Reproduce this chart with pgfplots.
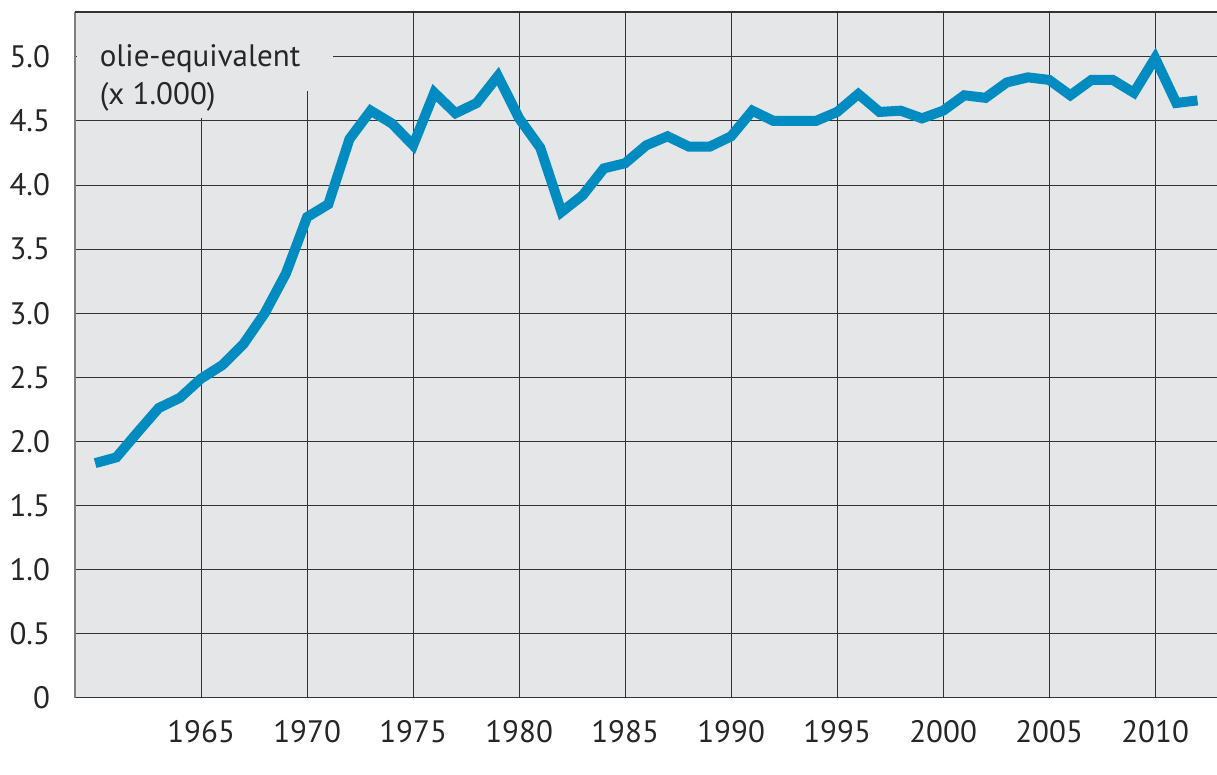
\documentclass[border=0pt]{standalone}
\usepackage{pgfplots}
\pgfplotsset{compat=1.18}
\usepackage{fontspec}
\setmainfont{PT Sans}
\definecolor{bgc}{HTML}{E5E6E8}
\definecolor{linec}{HTML}{008CC0}
\definecolor{gridc}{HTML}{333333}
\begin{document}
\begin{tikzpicture}
\useasboundingbox (-37.5pt,-38.5pt) rectangle (571pt,348.85pt);
\begin{axis}[
  scale only axis,
  width=571pt, height=342.85pt,
  xmin=1959.05, xmax=2012.92,
  ymin=0, ymax=5.35,
  xtick={1965,1970,1975,1980,1985,1990,1995,2000,2005,2010},
  xticklabels={1965,1970,1975,1980,1985,1990,1995,2000,2005,2010},
  ytick={0,0.5,1,1.5,2,2.5,3,3.5,4,4.5,5},
  yticklabels={0,0.5,1.0,1.5,2.0,2.5,3.0,3.5,4.0,4.5,5.0},
  tick style={draw=none},
  grid=major,
  major grid style={draw=gridc, line width=0.5pt},
  axis background/.style={fill=bgc},
  axis x line*=bottom,
  axis y line*=left,
  x axis line style={draw=gridc, line width=0.6pt, -},
  y axis line style={draw=gray, line width=0.8pt, -},
  ticklabel style={font=\fontsize{15.5}{18}\selectfont, text=black!85},
  yticklabel style={anchor=east, xshift=-9pt},
  xticklabel style={anchor=north, yshift=-8pt},
  clip=false,
]
\fill[bgc] (axis cs:1959.15,4.52) rectangle (axis cs:1966,5.35);
\fill[bgc] (axis cs:1959.15,4.735) rectangle (axis cs:1971.21,5.35);
\draw[gridc, line width=0.6pt] (axis cs:1959.05,5.35) -- (axis cs:2012.92,5.35);
\node[anchor=north west, align=left, font=\fontsize{15.5}{19}\selectfont, text=black!85, inner sep=0pt] at (axis cs:1960.2,5.1) {olie-equivalent\\(x 1.000)};
\addplot[linec, line width=5pt, line join=miter, miter limit=3] coordinates {
(1960,1.83) (1961,1.875) (1962,2.07) (1963,2.26) (1964,2.34)
(1965,2.49) (1966,2.595) (1967,2.76) (1968,3.0) (1969,3.31)
(1970,3.75) (1971,3.85) (1972,4.36) (1973,4.58) (1974,4.48)
(1975,4.31) (1976,4.72) (1977,4.56) (1978,4.64) (1979,4.85)
(1980,4.52) (1981,4.29) (1982,3.79) (1983,3.92) (1984,4.13)
(1985,4.17) (1986,4.31) (1987,4.38) (1988,4.30) (1989,4.30)
(1990,4.38) (1991,4.58) (1992,4.50) (1993,4.50) (1994,4.50)
(1995,4.57) (1996,4.71) (1997,4.57) (1998,4.58) (1999,4.52)
(2000,4.58) (2001,4.70) (2002,4.68) (2003,4.80) (2004,4.84)
(2005,4.82) (2006,4.70) (2007,4.82) (2008,4.82) (2009,4.72)
(2010,4.99) (2011,4.64) (2012,4.66)
};
\end{axis}
\end{tikzpicture}
\end{document}
